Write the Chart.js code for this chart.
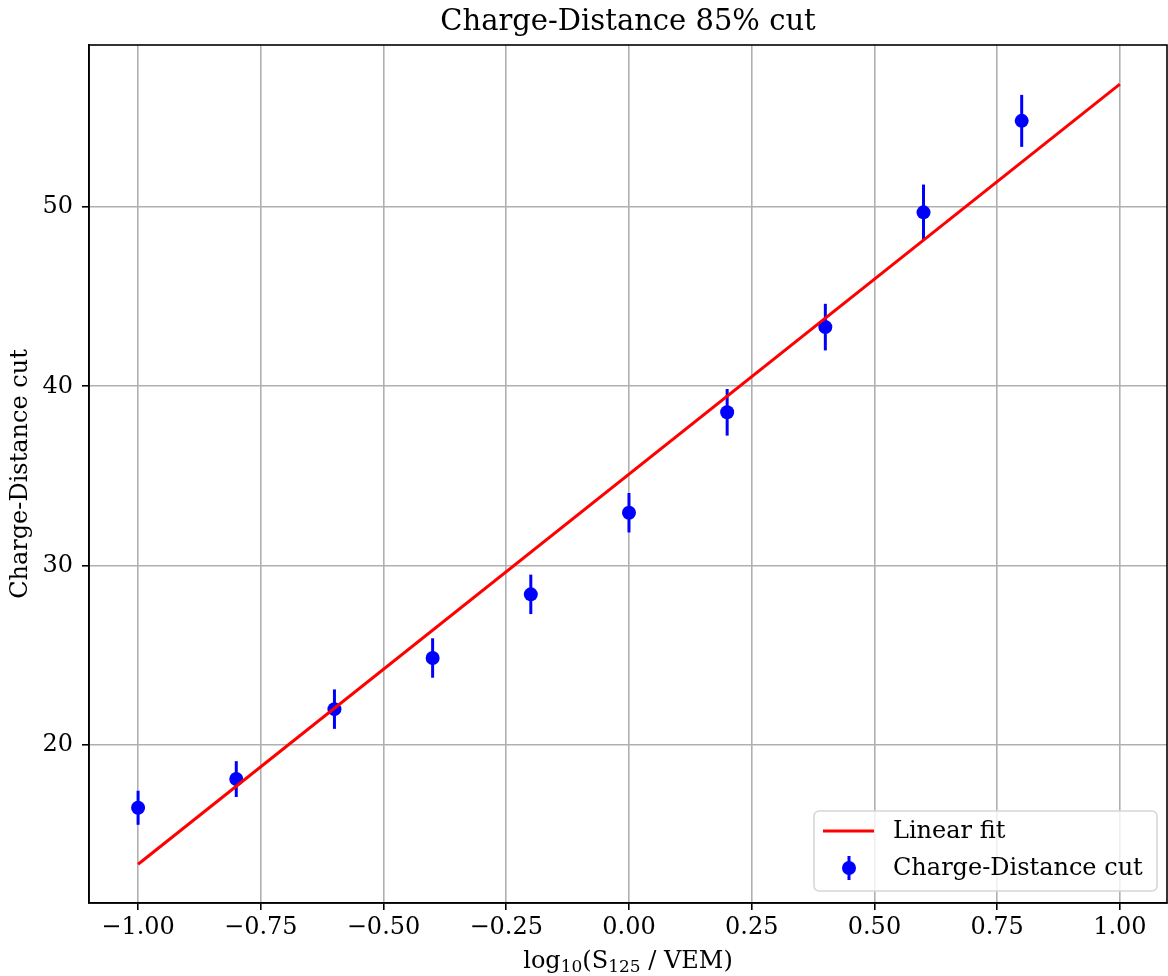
<!DOCTYPE html>
<html>
<head>
<meta charset="utf-8">
<script src="https://cdn.jsdelivr.net/npm/chart.js@4"></script>
<style>
  html, body { margin: 0; padding: 0; background: #fff; overflow: hidden; }
  canvas { display: block; }
</style>
</head>
<body>
<canvas id="myChart" width="1168" height="976"></canvas>
<script>
// measured points: log10(S125/VEM) vs cut value, with symmetric errors
var xVals = [-1.0, -0.8, -0.6, -0.4, -0.2, 0.0, 0.2, 0.4, 0.6, 0.8];
var yVals = [16.5, 18.1, 22.0, 24.85, 28.4, 32.95, 38.55, 43.3, 49.7, 54.8];
var yErr  = [0.95, 1.0, 1.1, 1.1, 1.1, 1.1, 1.3, 1.3, 1.55, 1.45];

// straight-line fit, end points
var fitX = [-1.0, 1.0];
var fitY = [13.35, 56.85];

// tick labels
var xTicks = [-1.0, -0.75, -0.5, -0.25, 0.0, 0.25, 0.5, 0.75, 1.0];
var yTicks = [20, 30, 40, 50];

var FONT = "'DejaVu Serif', 'Liberation Serif', serif";
var FS = 24;

var points = xVals.map(function (x, i) { return { x: x, y: yVals[i] }; });
var fitLine = fitX.map(function (x, i) { return { x: x, y: fitY[i] }; });

// vertical error bars through the scales
var errorBars = {
  id: 'errorBars',
  beforeDatasetsDraw: function (chart) {
    var ctx = chart.ctx, xs = chart.scales.x, ys = chart.scales.y;
    ctx.save();
    ctx.strokeStyle = '#0000ff';
    ctx.lineWidth = 3;
    xVals.forEach(function (x, i) {
      var px = xs.getPixelForValue(x);
      ctx.beginPath();
      ctx.moveTo(px, ys.getPixelForValue(yVals[i] - yErr[i]));
      ctx.lineTo(px, ys.getPixelForValue(yVals[i] + yErr[i]));
      ctx.stroke();
    });
    ctx.restore();
  }
};

// x label with real subscripts: log10(S125 / VEM)
var xLabelParts = [['log', false], ['10', true], ['(S', false], ['125', true], [' / VEM)', false]];

var xLabel = {
  id: 'xLabel',
  afterDraw: function (chart) {
    var ctx = chart.ctx, a = chart.chartArea;
    var big = FS + 'px ' + FONT, small = Math.round(FS * 0.7) + 'px ' + FONT;
    ctx.save();
    ctx.fillStyle = '#000';
    ctx.textBaseline = 'alphabetic';
    ctx.textAlign = 'left';
    var total = 0;
    xLabelParts.forEach(function (p) {
      ctx.font = p[1] ? small : big;
      total += ctx.measureText(p[0]).width;
    });
    var x = (a.left + a.right) / 2 - total / 2, base = 968;
    xLabelParts.forEach(function (p) {
      ctx.font = p[1] ? small : big;
      ctx.fillText(p[0], x, p[1] ? base + 4 : base);
      x += ctx.measureText(p[0]).width;
    });
    ctx.restore();
  }
};

// box around the plot + legend in the lower right
var frameAndLegend = {
  id: 'frameAndLegend',
  afterDraw: function (chart) {
    var ctx = chart.ctx, a = chart.chartArea;
    ctx.save();
    ctx.strokeStyle = '#000';
    ctx.lineWidth = 1.6;
    ctx.strokeRect(a.left, a.top, a.right - a.left, a.bottom - a.top);

    // legend box
    var bx = 814, by = 811, bw = 343, bh = 80, r = 5;
    ctx.beginPath();
    ctx.moveTo(bx + r, by);
    ctx.arcTo(bx + bw, by, bx + bw, by + bh, r);
    ctx.arcTo(bx + bw, by + bh, bx, by + bh, r);
    ctx.arcTo(bx, by + bh, bx, by, r);
    ctx.arcTo(bx, by, bx + bw, by, r);
    ctx.closePath();
    ctx.fillStyle = 'rgba(255,255,255,0.8)';
    ctx.fill();
    ctx.strokeStyle = '#d6d6d6';
    ctx.lineWidth = 1.6;
    ctx.stroke();

    var ds = chart.data.datasets;
    ctx.font = FS + 'px ' + FONT;
    ctx.fillStyle = '#000';
    ctx.textBaseline = 'middle';

    // fit entry
    ctx.strokeStyle = '#ff0000';
    ctx.lineWidth = 3;
    ctx.beginPath();
    ctx.moveTo(823, 831);
    ctx.lineTo(874, 831);
    ctx.stroke();
    ctx.fillText(ds[0].label, 893, 832);

    // data entry
    ctx.strokeStyle = '#0000ff';
    ctx.beginPath();
    ctx.moveTo(849, 856);
    ctx.lineTo(849, 880);
    ctx.stroke();
    ctx.fillStyle = '#0000ff';
    ctx.beginPath();
    ctx.arc(849, 868, 7, 0, Math.PI * 2);
    ctx.fill();
    ctx.fillStyle = '#000';
    ctx.fillText(ds[1].label, 893, 869);
    ctx.restore();
  }
};

var ctx = document.getElementById('myChart').getContext('2d');
var myChart = new Chart(ctx, {
  type: 'scatter',
  data: {
    datasets: [
      {
        label: 'Linear fit',
        type: 'line',
        data: fitLine,
        borderColor: '#ff0000',
        borderWidth: 3,
        pointRadius: 0,
        fill: false,
        tension: 0
      },
      {
        label: 'Charge-Distance cut',
        data: points,
        backgroundColor: '#0000ff',
        borderColor: '#0000ff',
        pointRadius: 7,
        pointHoverRadius: 7,
        borderWidth: 0
      }
    ]
  },
  options: {
    responsive: false,
    animation: false,
    devicePixelRatio: 1,
    layout: { autoPadding: false, padding: { left: 0, right: 1, top: 0, bottom: 0 } },
    plugins: {
      legend: { display: false },
      tooltip: { enabled: false },
      title: {
        display: true,
        fullSize: false,
        text: 'Charge-Distance 85% cut',
        color: '#000',
        font: { family: FONT, size: 29, weight: 'normal' },
        padding: { top: 4.6, bottom: 5.6 }
      }
    },
    scales: {
      x: {
        type: 'linear',
        min: -1.1,
        max: 1.096,
        afterBuildTicks: function (scale) {
          scale.ticks = xTicks.map(function (v) { return { value: v }; });
        },
        afterFit: function (scale) {
          scale.height = 73;
          scale.paddingLeft = 0;
          scale.paddingRight = 0;
        },
        ticks: {
          color: '#000',
          padding: 3.6,
          maxRotation: 0,
          font: { family: FONT, size: FS },
          callback: function (v) { return v.toFixed(2).replace('-', '\u2212'); }
        },
        grid: { color: '#b0b0b0', lineWidth: 1.6, tickLength: 7, tickColor: '#000', tickWidth: 1.6 },
        border: { color: '#000', width: 1.6 }
      },
      y: {
        type: 'linear',
        min: 11.19,
        max: 59.03,
        afterBuildTicks: function (scale) {
          scale.ticks = yTicks.map(function (v) { return { value: v }; });
        },
        afterFit: function (scale) {
          scale.width = 89;
          scale.paddingTop = 0;
          scale.paddingBottom = 0;
        },
        ticks: {
          color: '#000',
          padding: 9,
          font: { family: FONT, size: FS },
          callback: function (v) { return String(v); }
        },
        grid: { color: '#b0b0b0', lineWidth: 1.6, tickLength: 7, tickColor: '#000', tickWidth: 1.6 },
        border: { color: '#000', width: 1.6 },
        title: {
          display: true,
          text: 'Charge-Distance cut',
          color: '#000',
          font: { family: FONT, size: FS },
          padding: { top: 6.6, bottom: 2 }
        }
      }
    }
  },
  plugins: [errorBars, xLabel, frameAndLegend]
});
</script>
</body>
</html>
